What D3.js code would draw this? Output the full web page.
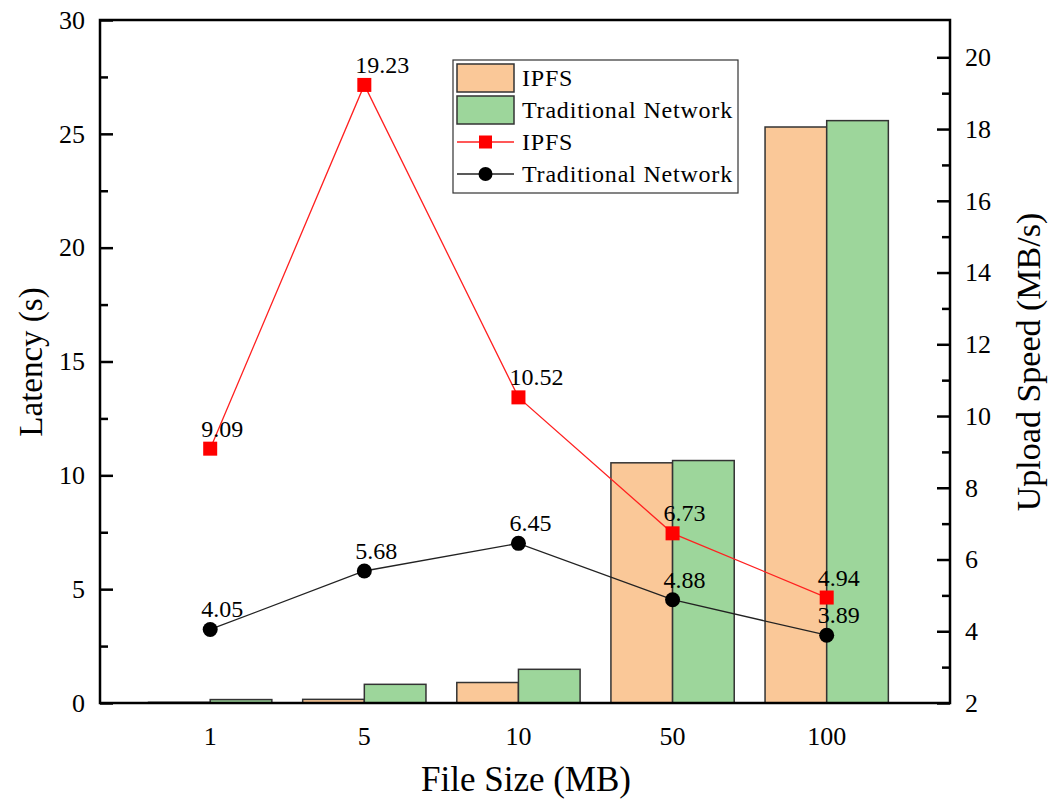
<!doctype html>
<html>
<head>
<meta charset="UTF-8">
<title>Latency and Upload Speed</title>
<script src="https://d3js.org/d3.v7.min.js"></script>
<style>
  body { margin: 0; background: #fff; }
  text { font-family: "Liberation Serif", "Times New Roman", serif; fill: #000; }
</style>
</head>
<body>
<script>
// file sizes on the x axis
var categories = ["1", "5", "10", "50", "100"];
// latency bars (left axis, s)
var ipfsLatency = [0.03, 0.16, 0.9, 10.55, 25.3];
var tradLatency = [0.15, 0.82, 1.48, 10.65, 25.58];
// upload speed lines (right axis, MB/s)
var ipfsSpeed = [9.09, 19.23, 10.52, 6.73, 4.94];
var tradSpeed = [4.05, 5.68, 6.45, 4.88, 3.89];
// ticks
var leftTicks = [0, 5, 10, 15, 20, 25, 30];
var rightTicks = [2, 4, 6, 8, 10, 12, 14, 16, 18, 20];

var W = 1054, H = 799;
var pL = 100, pR = 950, pT = 20, pB = 703;

var svg = d3.select("body").append("svg").attr("width", W).attr("height", H);

var x = d3.scaleLinear().domain([0.285, 5.8]).range([pL, pR]);
var yL = d3.scaleLinear().domain([0, 30]).range([pB, pT]);
var yR = d3.scaleLinear().domain([2, 21.04]).range([pB, pT]);
var bw = x(1.4) - x(1);

// bars
var g = svg.append("g");
g.selectAll("rect.ipfs").data(ipfsLatency).enter().append("rect")
  .attr("class", "ipfs")
  .attr("x", function(d, i) { return x(i + 1) - bw; })
  .attr("y", function(d) { return yL(d); })
  .attr("width", bw)
  .attr("height", function(d) { return yL(0) - yL(d); })
  .attr("fill", "#fac898").attr("stroke", "#333").attr("stroke-width", 1.5);
g.selectAll("rect.trad").data(tradLatency).enter().append("rect")
  .attr("class", "trad")
  .attr("x", function(d, i) { return x(i + 1); })
  .attr("y", function(d) { return yL(d); })
  .attr("width", bw)
  .attr("height", function(d) { return yL(0) - yL(d); })
  .attr("fill", "#9dd69b").attr("stroke", "#333").attr("stroke-width", 1.5);

// axes
var axL = d3.axisLeft(yL).tickValues(leftTicks).tickSize(-13).tickPadding(15).tickSizeOuter(0);
var axLm = d3.axisLeft(yL).tickValues(d3.range(2.5, 30, 5)).tickSize(-8).tickFormat("").tickSizeOuter(0);
var axR = d3.axisRight(yR).tickValues(rightTicks).tickSize(-13).tickPadding(15).tickSizeOuter(0);
var axRm = d3.axisRight(yR).tickValues(d3.range(3, 21, 2)).tickSize(-8).tickFormat("").tickSizeOuter(0);

function styleAxis(sel) {
  sel.select(".domain").remove();
  sel.selectAll("line").attr("stroke", "#000").attr("stroke-width", 2.5);
  sel.selectAll("text").style("font-size", "26px").style("font-family", "Liberation Serif, serif");
}
svg.append("g").attr("transform", "translate(" + pL + ",0)").call(axL).call(styleAxis);
svg.append("g").attr("transform", "translate(" + pL + ",0)").call(axLm).call(styleAxis);
svg.append("g").attr("transform", "translate(" + pR + ",0)").call(axR).call(styleAxis);
svg.append("g").attr("transform", "translate(" + pR + ",0)").call(axRm).call(styleAxis);

// frame
svg.append("rect").attr("x", pL).attr("y", pT).attr("width", pR - pL).attr("height", pB - pT)
  .attr("fill", "none").attr("stroke", "#000").attr("stroke-width", 2.5);

// x labels
svg.selectAll("text.xl").data(categories).enter().append("text")
  .attr("class", "xl")
  .attr("x", function(d, i) { return x(i + 1); })
  .attr("y", pB + 42)
  .attr("text-anchor", "middle").style("font-size", "26px")
  .text(function(d) { return d; });

// lines
var line = d3.line().x(function(d, i) { return x(i + 1); }).y(function(d) { return yR(d); });
svg.append("path").datum(ipfsSpeed).attr("d", line).attr("fill", "none").attr("stroke", "#ff2020").attr("stroke-width", 1.3);
svg.append("path").datum(tradSpeed).attr("d", line).attr("fill", "none").attr("stroke", "#222").attr("stroke-width", 1.3);

svg.selectAll("rect.mk").data(ipfsSpeed).enter().append("rect")
  .attr("class", "mk")
  .attr("x", function(d, i) { return x(i + 1) - 7; })
  .attr("y", function(d) { return yR(d) - 7; })
  .attr("width", 14).attr("height", 14).attr("fill", "#ff0000");
svg.selectAll("circle.mk").data(tradSpeed).enter().append("circle")
  .attr("class", "mk")
  .attr("cx", function(d, i) { return x(i + 1); })
  .attr("cy", function(d) { return yR(d); })
  .attr("r", 7.5).attr("fill", "#000");

function labels(data, cls) {
  svg.selectAll("text." + cls).data(data).enter().append("text")
    .attr("class", cls)
    .attr("x", function(d, i) { return x(i + 1) - 9; })
    .attr("y", function(d) { return yR(d) - 12; })
    .style("font-size", "24px")
    .text(function(d) { return d.toFixed(2); });
}
labels(ipfsSpeed, "li");
labels(tradSpeed, "lt");

// axis titles
svg.append("text").attr("transform", "translate(42,362) rotate(-90)")
  .attr("text-anchor", "middle").style("font-size", "33px").text("Latency (s)");
svg.append("text").attr("transform", "translate(1040,362) rotate(-90)")
  .attr("text-anchor", "middle").style("font-size", "34px").text("Upload Speed (MB/s)");
svg.append("text").attr("x", 526).attr("y", 791)
  .attr("text-anchor", "middle").style("font-size", "35px").text("File Size (MB)");

// legend
var lg = svg.append("g").attr("transform", "translate(453,60)");
lg.append("rect").attr("width", 285).attr("height", 133).attr("fill", "#fff").attr("stroke", "#333").attr("stroke-width", 1.2);
var legendItems = [
  { name: "IPFS", type: "bar", color: "#fac898" },
  { name: "Traditional Network", type: "bar", color: "#9dd69b" },
  { name: "IPFS", type: "square", color: "#ff0000" },
  { name: "Traditional Network", type: "circle", color: "#000" }
];
legendItems.forEach(function(it, i) {
  var cy = 18 + i * 32;
  if (it.type === "bar") {
    lg.append("rect").attr("x", 4).attr("y", cy - 14).attr("width", 57).attr("height", 28)
      .attr("fill", it.color).attr("stroke", "#333").attr("stroke-width", 1.5);
  } else {
    lg.append("line").attr("x1", 4).attr("x2", 61).attr("y1", cy).attr("y2", cy)
      .attr("stroke", it.type === "square" ? "#ff2020" : "#222").attr("stroke-width", 1.3);
    if (it.type === "square") {
      lg.append("rect").attr("x", 26).attr("y", cy - 6.5).attr("width", 13).attr("height", 13).attr("fill", it.color);
    } else {
      lg.append("circle").attr("cx", 32.5).attr("cy", cy).attr("r", 7).attr("fill", it.color);
    }
  }
  lg.append("text").attr("x", 69).attr("y", cy + 8).style("font-size", "24px")
    .style("letter-spacing", "0.8px").text(it.name);
});
</script>
</body>
</html>
